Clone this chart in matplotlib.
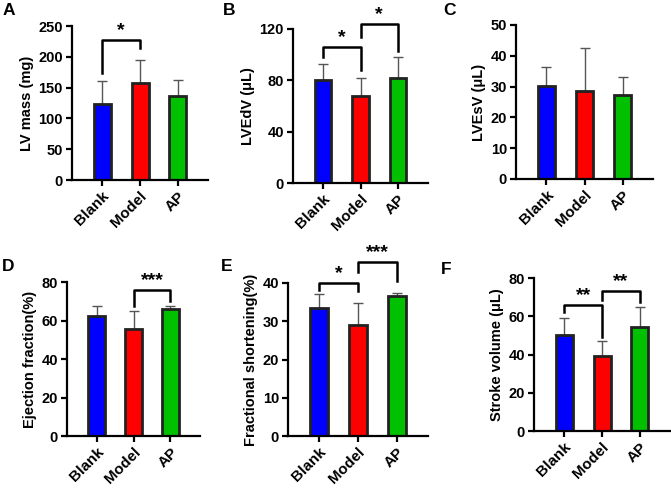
import matplotlib.pyplot as plt

plt.rcParams['font.family'] = ['Liberation Sans', 'DejaVu Sans']
plt.rcParams['font.weight'] = 'bold'

groups = ['Blank', 'Model', 'AP']
bar_colors = ['#0000FF', '#FF0000', '#00C000']

lv_mass = [124, 157, 137]
lv_mass_err = [37, 38, 26]
lvedv = [80.5, 68, 81.5]
lvedv_err = [12.5, 13.5, 16.3]
lvesv = [30.2, 28.7, 27.3]
lvesv_err = [6.3, 13.7, 5.7]
ef = [62.2, 55.7, 66.2]
ef_err = [5.2, 9.1, 1.5]
fs = [33.4, 29.0, 36.5]
fs_err = [3.7, 5.8, 0.9]
sv = [50.2, 39.4, 54.5]
sv_err = [9.0, 7.5, 10.4]

# (group i, group j, bracket height, left end, right end, stars)
brackets_a = [(0, 1, 227, 174, 214, '*')]
brackets_b = [(0, 1, 106, 98, 88, '*'), (1, 2, 124, 114, 102.5, '*')]
brackets_d = [(1, 2, 75.7, 67.4, 70, '***')]
brackets_e = [(0, 1, 40, 38.3, 37.9, '*'), (1, 2, 45.5, 42.9, 40.4, '***')]
brackets_f = [(0, 1, 65.8, 62.3, 49.3, '**'), (1, 2, 73.2, 68.4, 67.5, '**')]

W, H = 671, 490
fig = plt.figure(figsize=(W / 100, H / 100), dpi=100)


def panel(box, letter, letter_xy, vals, errs, ylabel, ymax, ystep, brackets):
    x0, y0, x1, y1 = box
    ax = fig.add_axes([x0 / W, 1 - y1 / H, (x1 - x0) / W, (y1 - y0) / H])
    xs = range(len(groups))
    ax.errorbar(xs, vals, yerr=[[0] * 3, errs], fmt='none', ecolor='#555555',
                elinewidth=1, capsize=3.5, capthick=1, zorder=1)
    ax.bar(xs, vals, width=0.45, color=bar_colors, edgecolor='#222222',
           linewidth=2, zorder=2)
    ax.set_xlim(-0.8, 2.8)
    ax.set_ylim(0, ymax)
    ax.set_yticks(range(0, ymax + 1, ystep))
    ax.set_xticks(list(xs))
    ax.set_xticklabels(groups, rotation=45, ha='right', rotation_mode='anchor',
                       fontsize=11, fontweight='bold')
    for lab in ax.get_yticklabels():
        lab.set_fontsize(10.5)
        lab.set_fontweight('bold')
    ax.set_ylabel(ylabel, fontsize=10.5, fontweight='bold', labelpad=3)
    for s in ['top', 'right']:
        ax.spines[s].set_visible(False)
    for s in ['left', 'bottom']:
        ax.spines[s].set_linewidth(1.6)
    ax.tick_params(width=1.6, length=4.5, pad=2)
    for i, j, h, lh, rh, txt in brackets:
        ax.plot([i, i, j, j], [lh, h, h, rh], color='black', lw=1.8,
                clip_on=False, zorder=3)
        ax.text((i + j) / 2, h + ymax * 0.005, txt, ha='center', va='bottom',
                fontsize=14, fontweight='bold', clip_on=False)
    fig.text(letter_xy[0] / W, 1 - letter_xy[1] / H, letter, fontsize=12.5,
             fontweight='bold', ha='left', va='top')
    return ax


panel((72, 26, 208, 180), 'A', (3, 3), lv_mass, lv_mass_err, 'LV mass (mg)', 250, 50, brackets_a)
panel((293, 29, 428, 183), 'B', (223, 3), lvedv, lvedv_err, 'LVEdV (\u03bcL)', 120, 40, brackets_b)
panel((516, 25, 653, 179), 'C', (443, 3), lvesv, lvesv_err, 'LVEsV (\u03bcL)', 50, 10, [])
panel((67, 282, 200, 436), 'D', (2, 259), ef, ef_err, 'Ejection fraction(%)', 80, 20, brackets_d)
panel((288, 283, 428, 436), 'E', (221, 259), fs, fs_err, 'Fractional shortening(%)', 40, 10, brackets_e)
panel((534, 278, 670, 431), 'F', (441, 262), sv, sv_err, 'Stroke volume (\u03bcL)', 80, 20, brackets_f)

fig.savefig('out.png', dpi=100)
